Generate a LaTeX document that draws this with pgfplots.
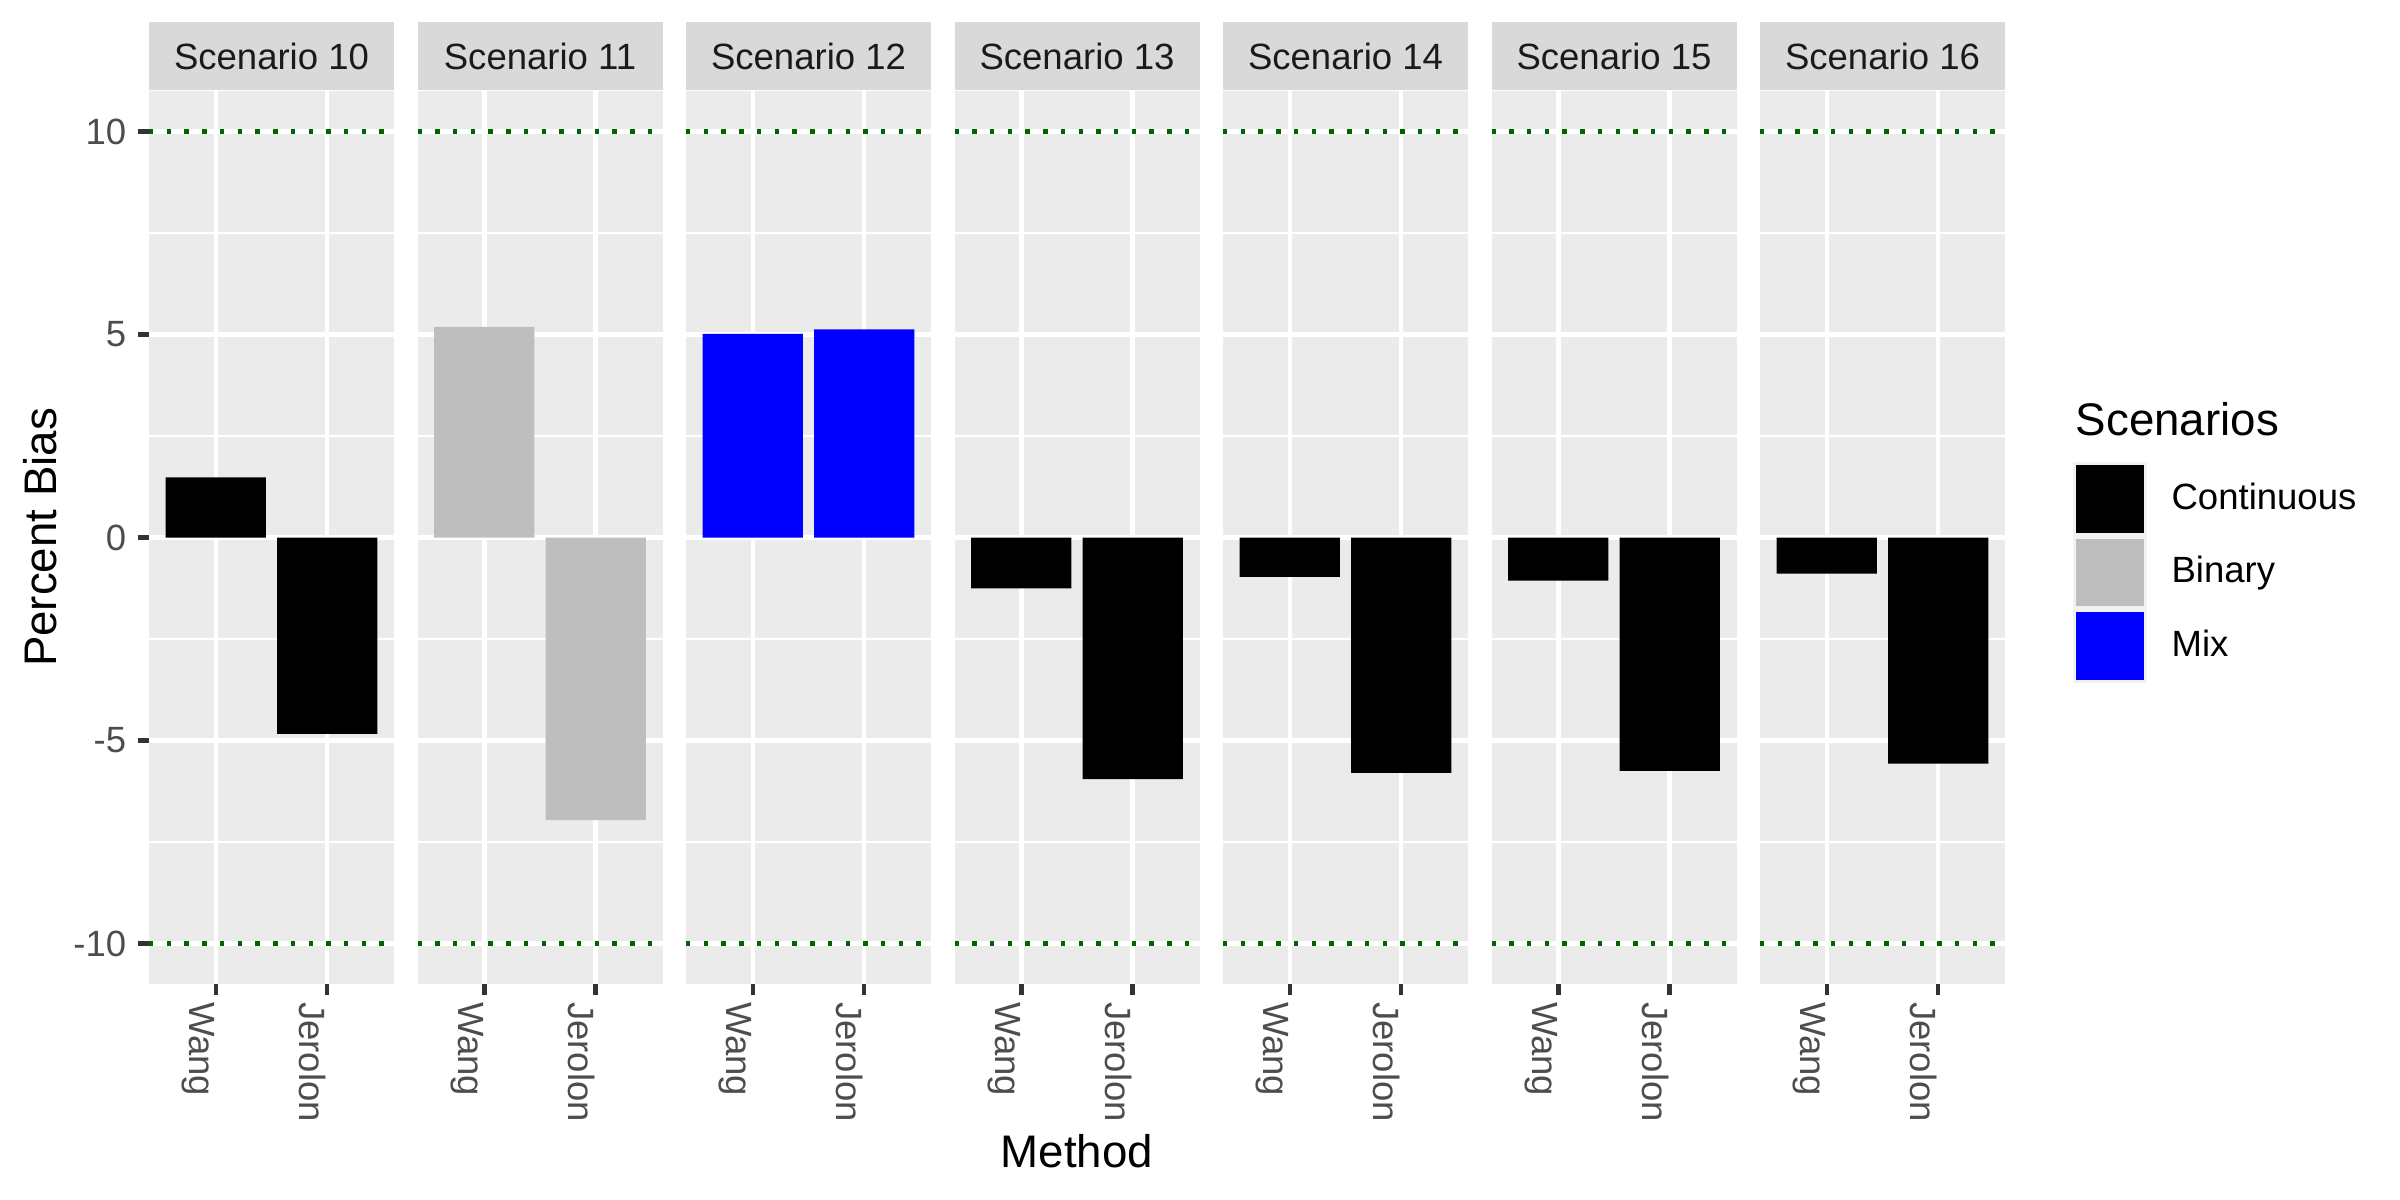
\documentclass[border=0pt]{standalone}
\usepackage{pgfplots}
\pgfplotsset{compat=1.18}
\usepackage{fontspec}
\setmainfont{Liberation Sans}
\definecolor{ggpanel}{HTML}{EBEBEB}
\definecolor{ggstrip}{HTML}{D9D9D9}
\definecolor{gray30}{HTML}{4D4D4D}
\definecolor{gray20}{HTML}{333333}
\definecolor{gray10}{HTML}{1A1A1A}
\definecolor{ggkey}{HTML}{F2F2F2}
\definecolor{darkgreen}{HTML}{006400}
\definecolor{binary}{HTML}{BEBEBE}
\definecolor{mix}{HTML}{0000FF}
\newcommand{\ticksize}{\fontsize{8.8pt}{10pt}\selectfont}
\newcommand{\titlesize}{\fontsize{11pt}{13pt}\selectfont}
\pgfplotsset{
  panel/.style={
    scale only axis, width=59.02pt, height=215.12pt, anchor=south west,
    xmin=0.4, xmax=2.6, ymin=-11, ymax=11,
    axis background/.style={fill=ggpanel},
    axis line style={draw=none},
    xtick={1,2}, xticklabels={Wang,Jerolon},
    ytick={-10,-5,0,5,10}, yticklabels={-10,-5,0,5,10},
    minor ytick={-7.5,-2.5,2.5,7.5},
    xmajorgrids, ymajorgrids, yminorgrids,
    major grid style={white, line width=1.07pt},
    minor grid style={white, line width=0.53pt},
    tick align=outside, major tick length=2.65pt, minor tick length=0pt,
    tick style={color=gray20, line width=1.07pt},
    minor tick style={draw=none},
    tick pos=left,
    x tick label style={font=\ticksize, text=gray30, yshift=-1.5pt, rotate=-90, anchor=north west, inner sep=0pt},
    y tick label style={font=\ticksize, text=gray30, anchor=east, inner sep=0pt, xshift=-2.65pt},
    every axis title shift=0pt,
    title style={at={(0.5,1)}, anchor=south, fill=ggstrip, minimum width=59.02pt, minimum height=16.38pt, inner sep=0pt, font=\ticksize, text=gray10},
  },
  panelnoy/.style={panel, yticklabels={}, ytick style={draw=none}},
  bars/.style={ybar, bar width=0.9, bar shift=0pt, draw=none, forget plot},
  hl/.style={darkgreen, line width=1.07pt, dash pattern=on 1.07pt off 3.2pt, line cap=butt, forget plot},
}
\begin{document}
\begin{tikzpicture}
\useasboundingbox (0,0) rectangle (578.16pt,289.08pt);
\begin{axis}[panel, at={(35.894pt,52.03pt)}, title={Scenario 10}]
\addplot[bars, fill=black] coordinates {(1,1.48) (2,-4.84)};
\addplot[hl] coordinates {(0.4,10) (2.6,10)};
\addplot[hl] coordinates {(0.4,-10) (2.6,-10)};
\end{axis}
\begin{axis}[panelnoy, at={(100.576pt,52.03pt)}, title={Scenario 11}]
\addplot[bars, fill=binary] coordinates {(1,5.19) (2,-6.96)};
\addplot[hl] coordinates {(0.4,10) (2.6,10)};
\addplot[hl] coordinates {(0.4,-10) (2.6,-10)};
\end{axis}
\begin{axis}[panelnoy, at={(165.257pt,52.03pt)}, title={Scenario 12}]
\addplot[bars, fill=mix] coordinates {(1,5.02) (2,5.13)};
\addplot[hl] coordinates {(0.4,10) (2.6,10)};
\addplot[hl] coordinates {(0.4,-10) (2.6,-10)};
\end{axis}
\begin{axis}[panelnoy, at={(229.939pt,52.03pt)}, title={Scenario 13}]
\addplot[bars, fill=black] coordinates {(1,-1.25) (2,-5.95)};
\addplot[hl] coordinates {(0.4,10) (2.6,10)};
\addplot[hl] coordinates {(0.4,-10) (2.6,-10)};
\end{axis}
\begin{axis}[panelnoy, at={(294.621pt,52.03pt)}, title={Scenario 14}]
\addplot[bars, fill=black] coordinates {(1,-0.97) (2,-5.80)};
\addplot[hl] coordinates {(0.4,10) (2.6,10)};
\addplot[hl] coordinates {(0.4,-10) (2.6,-10)};
\end{axis}
\begin{axis}[panelnoy, at={(359.302pt,52.03pt)}, title={Scenario 15}]
\addplot[bars, fill=black] coordinates {(1,-1.06) (2,-5.75)};
\addplot[hl] coordinates {(0.4,10) (2.6,10)};
\addplot[hl] coordinates {(0.4,-10) (2.6,-10)};
\end{axis}
\begin{axis}[panelnoy, at={(423.984pt,52.03pt)}, title={Scenario 16},
  legend style={at={(1.2776,0.5845)}, anchor=north west, draw=none, fill=none,
    inner sep=0pt, outer sep=0pt, row sep=0pt, nodes={inner sep=0pt},
    cells={anchor=west}, font=\ticksize,
    /tikz/every odd column/.append style={column sep=6.0pt}},
  legend cell align=left]
\addlegendimage{legend image code/.code={\fill[ggkey] (0pt,-8.67pt) rectangle (17.35pt,8.67pt); \fill[black] (0.72pt,-7.95pt) rectangle (16.63pt,7.95pt);}}
\addlegendentry{Continuous}
\addlegendimage{legend image code/.code={\fill[ggkey] (0pt,-8.67pt) rectangle (17.35pt,8.67pt); \fill[binary] (0.72pt,-7.95pt) rectangle (16.63pt,7.95pt);}}
\addlegendentry{Binary}
\addlegendimage{legend image code/.code={\fill[ggkey] (0pt,-8.67pt) rectangle (17.35pt,8.67pt); \fill[mix] (0.72pt,-7.95pt) rectangle (16.63pt,7.95pt);}}
\addlegendentry{Mix}
\addplot[bars, fill=black] coordinates {(1,-0.89) (2,-5.57)};
\addplot[hl] coordinates {(0.4,10) (2.6,10)};
\addplot[hl] coordinates {(0.4,-10) (2.6,-10)};
\end{axis}
\node[rotate=90, anchor=base, font=\titlesize] at (13.73pt,159.6pt) {Percent Bias};
\node[anchor=base, font=\titlesize] at (259.45pt,7.71pt) {Method};
\node[anchor=base west, inner sep=0pt, font=\titlesize] at (499.87pt,184.05pt) {Scenarios};
\end{tikzpicture}
\end{document}
